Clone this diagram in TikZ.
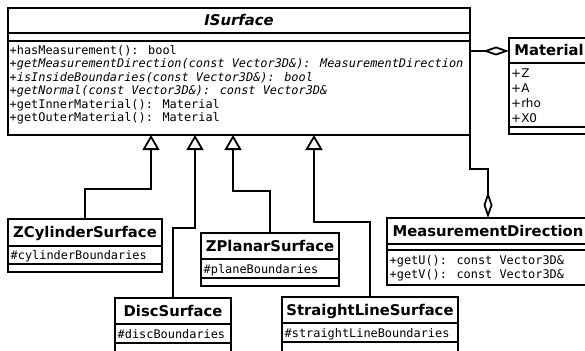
\documentclass[tikz,border=0pt]{standalone}
\usepackage{fontspec}
\setmainfont{DejaVu Sans}
\newfontfamily\monof{DejaVu Sans Mono}
\usetikzlibrary{arrows.meta,calc}
\tikzset{
  comp/.style={draw, line width=1.5pt, inner sep=0pt, outer sep=0pt, anchor=north west},
  outer/.style={draw, line width=2pt},
  ttl/.style={inner sep=0pt, text height=10.7pt, text depth=0pt, font=\fontsize{14.8}{16}\selectfont\bfseries},
  mtxt/.style={inner sep=0pt, anchor=base west, font=\fontsize{11.9}{13}\selectfont\monof},
  stxt/.style={inner sep=0pt, anchor=base west, font=\fontsize{12}{13}\selectfont},
  gen/.style={line width=2pt, -{Triangle[open, length=15pt, width=17pt, line width=1.8pt]}},
  agg/.style={line width=2pt, -{Diamond[open, length=26pt, width=9pt, line width=1.8pt]}},
}
\begin{document}
\begin{tikzpicture}[x=1pt, y=-1pt]
\useasboundingbox (0,0) rectangle (585,350);
\fill[white] (0,0) rectangle (585,350);
\clip (0,0) rectangle (585,350);

% ISurface
\node[comp, minimum width=462, minimum height=25] (isurf) at (8,8) {};
\node[comp, minimum width=462, minimum height=8] (isurf-a) at (8,33) {};
\node[comp, minimum width=462, minimum height=94] (isurf-m) at (8,41) {};
\draw[outer] (isurf.north west) rectangle (isurf-m.south east);
\node[ttl, font=\fontsize{14.8}{16}\selectfont\bfseries\itshape] (isurf-t) at (isurf.center) {ISurface};
\node[mtxt] (im1) at (9.5,55) {+hasMeasurement(): bool};
\node[mtxt] (im2) at (9.5,68) {\itshape +getMeasurementDirection(const Vector3D\&): MeasurementDirection};
\node[mtxt] (im3) at (9.5,81.3) {\itshape +isInsideBoundaries(const Vector3D\&): bool};
\node[mtxt] (im4) at (9.5,94.6) {\itshape +getNormal(const Vector3D\&): const Vector3D\&};
\node[mtxt] (im5) at (9.5,108) {+getInnerMaterial(): Material};
\node[mtxt] (im6) at (9.5,121.3) {+getOuterMaterial(): Material};

% Material
\node[comp, minimum width=80, minimum height=25] (mat) at (509,38) {};
\node[comp, minimum width=80, minimum height=64] (mat-a) at (509,63) {};
\node[comp, minimum width=80, minimum height=7] (mat-m) at (509,127) {};
\draw[outer] (mat.north west) rectangle (mat-m.south east);
\node[ttl] (mat-t) at (mat.center) {Material};
\node[stxt] (ma1) at (511,77.5) {+Z};
\node[stxt] (ma2) at (511,92.5) {+A};
\node[stxt] (ma3) at (511,107.5) {+rho};
\node[stxt] (ma4) at (511,122.5) {+X0};

% MeasurementDirection
\node[comp, minimum width=202, minimum height=26] (md) at (387,218) {};
\node[comp, minimum width=202, minimum height=6] (md-a) at (387,244) {};
\node[comp, minimum width=202, minimum height=35] (md-m) at (387,250) {};
\draw[outer] (md.north west) rectangle (md-m.south east);
\node[ttl] (md-t) at (md.center) {MeasurementDirection};
\node[mtxt] (mdm1) at (389.5,264.3) {+getU(): const Vector3D\&};
\node[mtxt] (mdm2) at (389.5,278.3) {+getV(): const Vector3D\&};

% ZCylinderSurface
\node[comp, minimum width=154, minimum height=27] (zcyl) at (8,219) {};
\node[comp, minimum width=154, minimum height=18] (zcyl-a) at (8,246) {};
\node[comp, minimum width=154, minimum height=8] (zcyl-m) at (8,264) {};
\draw[outer] (zcyl.north west) rectangle (zcyl-m.south east);
\node[ttl] (zcyl-t) at (zcyl.center) {ZCylinderSurface};
\node[mtxt] (zcyl-x) at (10.5,259) {\#cylinderBoundaries};

% DiscSurface
\node[comp, minimum width=116, minimum height=26] (disc) at (115,298) {};
\node[comp, minimum width=116, minimum height=19] (disc-a) at (115,324) {};
\node[comp, minimum width=116, minimum height=12] (disc-m) at (115,343) {};
\draw[outer] (disc.north west) rectangle (disc-m.south east);
\node[ttl] (disc-t) at (disc.center) {DiscSurface};
\node[mtxt] (disc-x) at (117.5,338) {\#discBoundaries};

% ZPlanarSurface
\node[comp, minimum width=138, minimum height=26] (zpl) at (201,233) {};
\node[comp, minimum width=138, minimum height=19] (zpl-a) at (201,259) {};
\node[comp, minimum width=138, minimum height=8] (zpl-m) at (201,278) {};
\draw[outer] (zpl.north west) rectangle (zpl-m.south east);
\node[ttl] (zpl-t) at (zpl.center) {ZPlanarSurface};
\node[mtxt] (zpl-x) at (203.5,273) {\#planeBoundaries};

% StraightLineSurface
\node[comp, minimum width=176, minimum height=26] (sls) at (282,297) {};
\node[comp, minimum width=176, minimum height=19] (sls-a) at (282,323) {};
\node[comp, minimum width=176, minimum height=13] (sls-m) at (282,342) {};
\draw[outer] (sls.north west) rectangle (sls-m.south east);
\node[ttl] (sls-t) at (sls.center) {StraightLineSurface};
\node[mtxt] (sls-x) at (284.5,337) {\#straightLineBoundaries};

% generalization end points on ISurface
\coordinate (g1) at ($(isurf-m.south west)+(143,0)$);
\coordinate (g2) at ($(isurf-m.south west)+(187,0)$);
\coordinate (g3) at ($(isurf-m.south west)+(225,0)$);
\coordinate (g4) at ($(isurf-m.south west)+(306,0)$);

\draw[gen] (zcyl.north) |- ($(g1)+(0,54)$) -- (g1);
\draw[gen] (disc.north) |- ($(g2)+(0,93)$) -- (g2);
\draw[gen] (zpl.north) |- ($(g3)+(0,56)$) -- (g3);
\draw[gen] (sls.north) |- ($(g4)+(0,87)$) -- (g4);

% aggregations
\draw[agg] (isurf-m.east |- 0,51) -- (mat.west |- 0,51);
\draw[agg] (isurf-m.south east) -- ++(0,34) -| (md.north);
\end{tikzpicture}
\end{document}
